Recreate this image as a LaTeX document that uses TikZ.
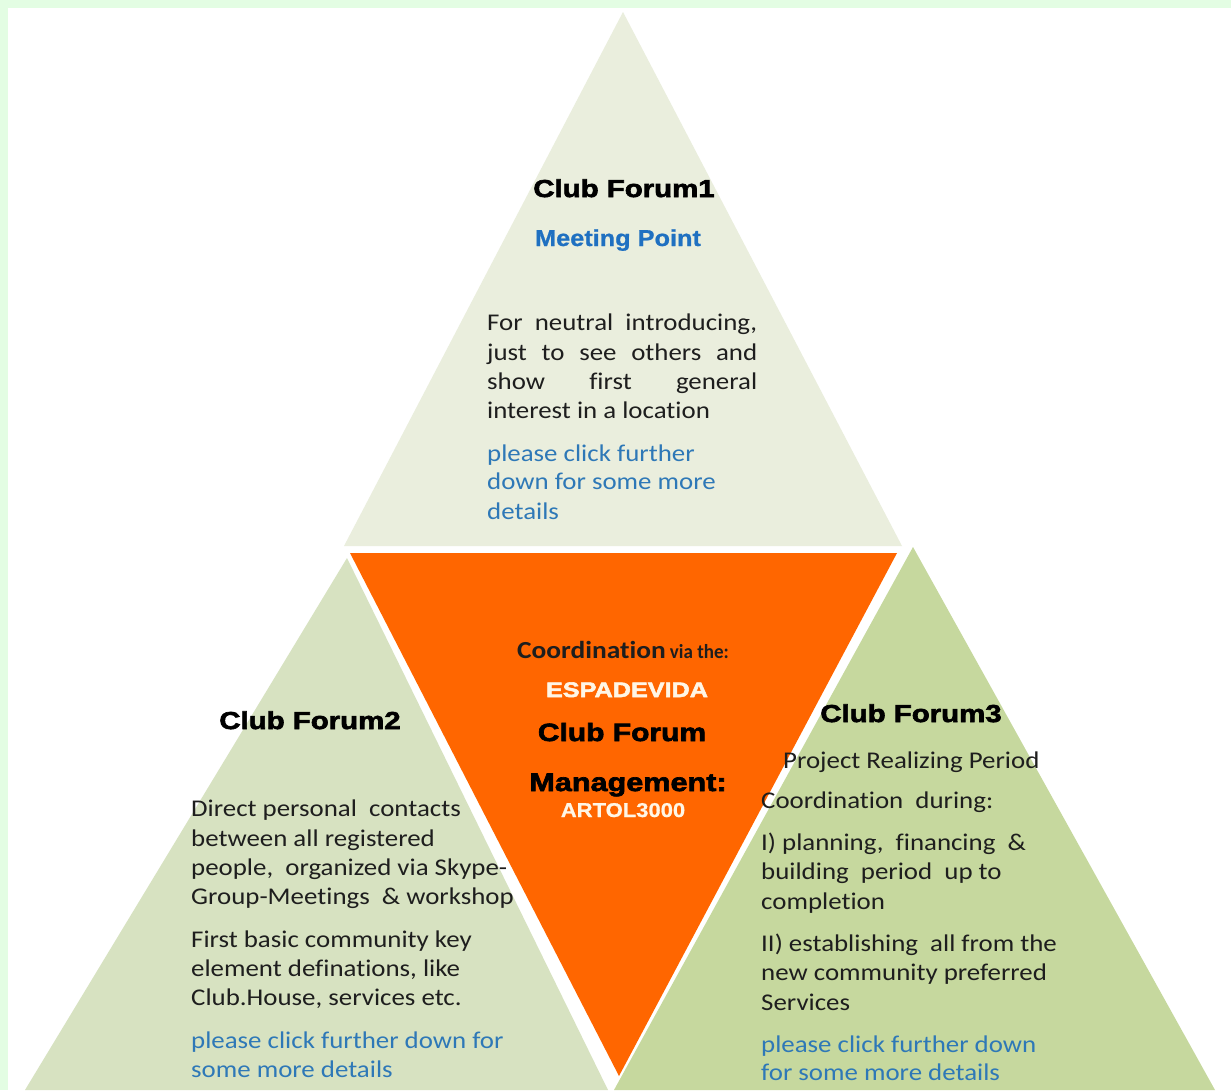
\documentclass[tikz,border=0pt]{standalone}
\usepackage{fontspec}
\setmainfont{Carlito}[FakeStretch=1.12, Ligatures=NoCommon]
\newfontfamily\heavyfont{Liberation Sans}[FakeStretch=1.2, BoldFeatures={FakeBold=2.6}]
\newfontfamily\sansbold{Liberation Sans}[FakeStretch=1.1, BoldFeatures={FakeBold=0.8}]
\definecolor{frame}{HTML}{E3FDE3}
\definecolor{toptri}{HTML}{EAEEDD}
\definecolor{lefttri}{HTML}{D7E2C1}
\definecolor{righttri}{HTML}{C6D89E}
\definecolor{orng}{HTML}{FF6600}
\definecolor{linkblue}{HTML}{2E78B7}
\definecolor{meetblue}{HTML}{1F70C1}
\definecolor{txt}{HTML}{1E1E1E}
\definecolor{wtext}{HTML}{FFF6E6}
\tikzset{
  body/.style={font=\fontsize{24}{29}\selectfont, text=txt, inner sep=0pt, anchor=base west},
  link/.style={body, text=linkblue},
  title/.style={font=\heavyfont\bfseries\fontsize{24.5}{28}\selectfont, text=black, inner sep=0pt, anchor=base},
  whitehead/.style={font=\heavyfont\bfseries\fontsize{21}{24}\selectfont, text=wtext, inner sep=0pt, anchor=base},
}
\newcommand{\jl}[1]{\makebox[270pt][s]{#1}}
\begin{document}
\begin{tikzpicture}[x=1pt,y=-1pt]
\useasboundingbox (0,0) rectangle (1231,1090);
\fill[frame] (0,0) rectangle (1231,1090);
\fill[white] (8,8) rectangle (1231,1090);
% shapes
\fill[toptri] (623,12) -- (902,546) -- (344,546) -- cycle;
\fill[orng] (350,553) -- (897,553) -- (619,1076) -- cycle;
\fill[lefttri] (347,558) -- (608,1090) -- (25,1090) -- cycle;
\fill[righttri] (913,547) -- (1215,1090) -- (614,1090) -- cycle;
% top triangle
\node[title] (t1) at (624,197) {Club Forum1};
\node[title, font=\sansbold\bfseries\fontsize{23}{26}\selectfont, text=meetblue] (t1b) at (618,246) {Meeting Point};
\node[body] (a1) at (487,330) {\jl{For neutral introducing,}};
\node[body] (a2) at (487,360) {\jl{just to see others and}};
\node[body] (a3) at (487,389) {\jl{show first general}};
\node[body] (a4) at (487,418) {interest in a location};
\node[link] (a5) at (487,461) {please click further};
\node[link] (a6) at (487,489) {down for some more};
\node[link] (a7) at (487,519) {details};
% left triangle
\node[title] (t2) at (310,729) {Club Forum2};
\node[body] (b1) at (191,816) {Direct personal\ \ contacts};
\node[body] (b2) at (191,846) {between all registered};
\node[body] (b3) at (191,875) {people,\ \ organized via Skype-};
\node[body] (b4) at (191,904) {Group-Meetings\ \ \& workshop};
\node[body] (b5) at (191,947) {First basic community key};
\node[body] (b6) at (191,976) {element definations, like};
\node[body] (b7) at (191,1005) {Club.House, services etc.};
\node[link] (b8) at (191,1048) {please click further down for};
\node[link] (b9) at (191,1077) {some more details};
% center
\node[title, font=\bfseries\fontsize{24.5}{26}\selectfont, text=txt] (c1) at (623,658)
  {Coordination\,{\addfontfeature{FakeStretch=0.95}\fontsize{20}{22}\selectfont via the:}};
\node[whitehead] (c2) at (627,697) {ESPADEVIDA};
\node[title, font=\heavyfont\bfseries\fontsize{25}{28}\selectfont] (c3) at (622,741) {Club Forum};
\node[title, font=\heavyfont\bfseries\fontsize{25.5}{28}\selectfont] (c4) at (628,791) {Management:};
\node[whitehead, font=\sansbold\bfseries\fontsize{20}{24}\selectfont] (c5) at (623,817) {ARTOL3000};
% right triangle
\node[title] (t3) at (911,722) {Club Forum3};
\node[body] (r1) at (783,768) {Project Realizing Period};
\node[body] (r2) at (761,808) {Coordination\ \ during:};
\node[body] (r3) at (761,850) {I) planning,\ \ financing\ \ \&};
\node[body] (r4) at (761,879) {building\ \ period\ \ up to};
\node[body] (r5) at (761,909) {completion};
\node[body] (r6) at (761,951) {II) establishing\ \ all from the};
\node[body] (r7) at (761,980) {new community preferred};
\node[body] (r8) at (761,1010) {Services};
\node[link] (r9) at (761,1052) {please click further down};
\node[link] (r10) at (761,1080) {for some more details};
\end{tikzpicture}
\end{document}
